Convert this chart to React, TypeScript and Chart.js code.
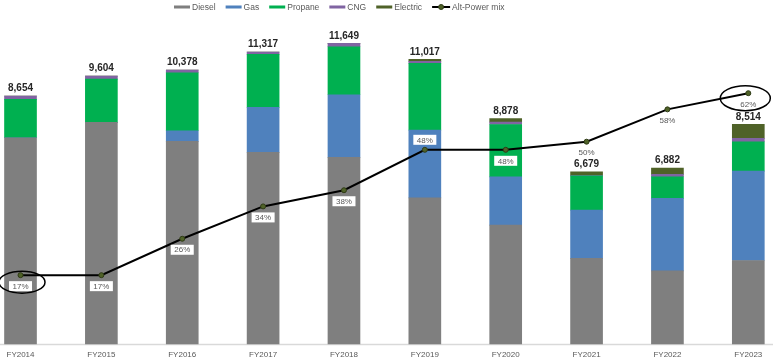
import React, { useEffect, useRef } from "react";
import { Chart, registerables } from "chart.js";

Chart.register(...registerables);

const categories = ["FY2014", "FY2015", "FY2016", "FY2017", "FY2018", "FY2019", "FY2020", "FY2021", "FY2022", "FY2023"];
const diesel = [7994, 8591, 7854, 7427, 7233, 5666, 4606, 3314, 2833, 3236];
const gas = [0, 0, 411, 1746, 2429, 2627, 1874, 1874, 2810, 3466];
const propane = [1490, 1680, 2251, 2057, 1863, 2588, 2029, 1331, 838, 1138];
const cng = [128, 116, 105, 89, 132, 78, 89, 20, 93, 132];
const electric = [0, 0, 0, 0, 0, 78, 144, 135, 244, 543];
const totals = [8654, 9604, 10378, 11317, 11649, 11017, 8878, 6679, 6882, 8514];
const altPowerMix = [17, 17, 26, 34, 38, 48, 48, 50, 58, 62];

const COLORS = {
  diesel: "#7f7f7f",
  gas: "#4f81bd",
  propane: "#00b050",
  cng: "#8064a2",
  electric: "#4f6228",
  line: "#000000",
  point: "#4f6228",
};

const TEXT = "#595959";
const FONT = "Arial, 'Liberation Sans', sans-serif";

const axisLinePlugin = {
  id: "axisLine",
  beforeDatasetsDraw(chart: any) {
    const ctx = chart.ctx;
    const y = chart.scales.y.getPixelForValue(0);
    ctx.save();
    ctx.strokeStyle = "#d9d9d9";
    ctx.lineWidth = 1.5;
    ctx.beginPath();
    ctx.moveTo(0, y + 0.5);
    ctx.lineTo(chart.width, y + 0.5);
    ctx.stroke();
    ctx.restore();
  },
};

const labelsPlugin = {
  id: "customLabels",
  afterDatasetsDraw(chart: any) {
    const ctx = chart.ctx;
    ctx.save();
    const barMetas = chart.data.datasets
      .map((d: any, i: number) => ({ d, m: chart.getDatasetMeta(i) }))
      .filter((o: any) => o.d.type !== "line");
    ctx.font = `bold 10px ${FONT}`;
    ctx.fillStyle = "#262626";
    ctx.textAlign = "center";
    ctx.textBaseline = "middle";
    totals.forEach((t, i) => {
      let top = Infinity;
      let x = 0;
      barMetas.forEach((o: any) => {
        const el = o.m.data[i];
        if (el && o.d.data[i] > 0) {
          top = Math.min(top, el.y);
          x = el.x;
        }
      });
      ctx.fillText(t.toLocaleString("en-US"), x, top - 7.5);
    });

    const lineIndex = chart.data.datasets.findIndex((d: any) => d.type === "line");
    const lineMeta = chart.getDatasetMeta(lineIndex);
    ctx.font = `8px ${FONT}`;
    lineMeta.data.forEach((el: any, i: number) => {
      const text = `${altPowerMix[i]}%`;
      const w = ctx.measureText(text).width + 7;
      const h = 10;
      const above = i === 5;
      const cy = above ? el.y - 10 : el.y + 11;
      ctx.fillStyle = "#ffffff";
      ctx.fillRect(el.x - w / 2, cy - h / 2, w, h);
      ctx.fillStyle = TEXT;
      ctx.fillText(text, el.x, cy + 0.5);
    });

    const first = lineMeta.data[0];
    const last = lineMeta.data[lineMeta.data.length - 1];
    ctx.strokeStyle = "#000000";
    ctx.lineWidth = 1.5;
    ctx.beginPath();
    ctx.ellipse(first.x + 1.5, first.y + 7, 23, 11, 0, 0, Math.PI * 2);
    ctx.stroke();
    ctx.beginPath();
    ctx.ellipse(last.x - 3, last.y + 5, 25, 12.5, 0, 0, Math.PI * 2);
    ctx.stroke();
    ctx.restore();
  },
};

const legendPlugin = {
  id: "customLegend",
  afterDraw(chart: any) {
    const ctx = chart.ctx;
    ctx.save();
    ctx.font = `8.5px ${FONT}`;
    ctx.textBaseline = "middle";
    ctx.textAlign = "left";
    let x = 174;
    const y = 7;
    chart.data.datasets.forEach((d: any) => {
      if (d.type === "line") {
        ctx.strokeStyle = d.borderColor;
        ctx.lineWidth = 2;
        ctx.beginPath();
        ctx.moveTo(x, y);
        ctx.lineTo(x + 18, y);
        ctx.stroke();
        ctx.fillStyle = d.pointBackgroundColor;
        ctx.strokeStyle = "#2f3b16";
        ctx.lineWidth = 1;
        ctx.beginPath();
        ctx.arc(x + 9, y, 2.5, 0, Math.PI * 2);
        ctx.fill();
        ctx.stroke();
        x += 20;
      } else {
        ctx.fillStyle = d.backgroundColor;
        ctx.fillRect(x, y - 1.5, 16, 3);
        x += 18;
      }
      ctx.fillStyle = TEXT;
      ctx.fillText(d.label, x, y + 0.5);
      x += ctx.measureText(d.label).width + 10;
    });
    ctx.restore();
  },
};

export default function App() {
  const canvasRef = useRef<HTMLCanvasElement | null>(null);

  useEffect(() => {
    const canvas = canvasRef.current;
    if (!canvas) return;
    const barBase = {
      type: "bar" as const,
      yAxisID: "y",
      order: 1,
      barThickness: 32,
      borderWidth: 0,
      clip: false,
    };
    const chart = new Chart(canvas, {
      type: "bar",
      data: {
        labels: categories,
        datasets: [
          { ...barBase, label: "Diesel", data: diesel, backgroundColor: COLORS.diesel },
          { ...barBase, label: "Gas", data: gas, backgroundColor: COLORS.gas },
          { ...barBase, label: "Propane", data: propane, backgroundColor: COLORS.propane },
          { ...barBase, label: "CNG", data: cng, backgroundColor: COLORS.cng },
          { ...barBase, label: "Electric", data: electric, backgroundColor: COLORS.electric },
          {
            type: "line" as const,
            label: "Alt-Power mix",
            data: altPowerMix,
            yAxisID: "y1",
            order: 0,
            borderColor: COLORS.line,
            borderWidth: 2,
            tension: 0,
            pointRadius: 2.5,
            pointBackgroundColor: COLORS.point,
            pointBorderColor: "#2f3b16",
            pointBorderWidth: 1,
            fill: false,
            clip: false,
          } as any,
        ],
      },
      options: {
        animation: false,
        responsive: true,
        maintainAspectRatio: false,
        layout: { padding: { left: 20.5, right: 24.7, top: 20, bottom: -4.5 } },
        plugins: {
          legend: { display: false },
          tooltip: { enabled: false },
        },
        scales: {
          x: {
            stacked: true,
            offset: false,
            grid: { display: false, drawTicks: false },
            border: { display: false },
            ticks: {
              color: TEXT,
              font: { family: FONT, size: 8 },
              padding: 6.5,
              maxRotation: 0,
              autoSkip: false,
            },
          },
          y: {
            stacked: true,
            display: false,
            min: 0,
            max: 12561,
          },
          y1: {
            display: false,
            position: "right",
            min: 0,
            max: 80.1,
          },
        },
      },
      plugins: [axisLinePlugin, labelsPlugin, legendPlugin],
    });
    return () => chart.destroy();
  }, []);

  return (
    <div style={{ position: "absolute", left: 0, top: 0, width: 773, height: 362 }}>
      <canvas ref={canvasRef} />
    </div>
  );
}
